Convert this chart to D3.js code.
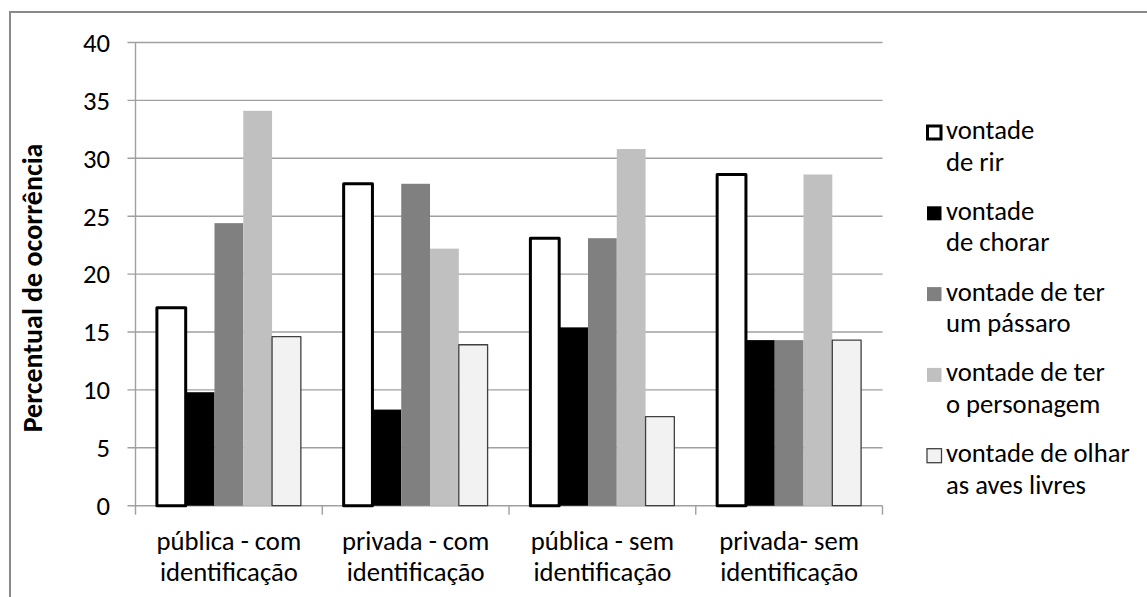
<!DOCTYPE html>
<html>
<head>
<meta charset="utf-8">
<script src="https://cdn.jsdelivr.net/npm/d3@7"></script>
<style>
  body { margin: 0; background: #fff; }
  svg { display: block; }
  text { font-family: Calibri, Carlito, Lato, "Noto Sans", sans-serif; fill: #000; }
</style>
</head>
<body>
<svg id="chart" width="1147" height="597"></svg>
<script>
// Category labels (two lines each)
const categoryLines = [
  ["pública - com", "identificação"],
  ["privada - com", "identificação"],
  ["pública - sem", "identificação"],
  ["privada- sem", "identificação"]
];

// Series names (two lines each, as shown in the legend)
const seriesLines = [
  ["vontade", "de rir"],
  ["vontade", "de chorar"],
  ["vontade de ter", "um pássaro"],
  ["vontade de ter", "o personagem"],
  ["vontade de olhar", "as aves livres"]
];

// Percent of occurrence per series, one value per category
const vontadeRir        = [17.1, 27.8, 23.1, 28.6];
const vontadeChorar     = [9.8, 8.3, 15.4, 14.3];
const vontadePassaro    = [24.4, 27.8, 23.1, 14.3];
const vontadePersonagem = [34.1, 22.2, 30.8, 28.6];
const vontadeOlhar      = [14.6, 13.9, 7.7, 14.3];

const yTicks = [0, 5, 10, 15, 20, 25, 30, 35, 40];
const yTitle = "Percentual de ocorrência";

const seriesValues = [vontadeRir, vontadeChorar, vontadePassaro, vontadePersonagem, vontadeOlhar];

// Bar styles per series
const fills   = ["#ffffff", "#000000", "#808080", "#c0c0c0", "#f2f2f2"];
const strokes = ["#000000", "none", "none", "none", "#404040"];
const strokeW = [3, 0, 0, 0, 1.3];

const fontSize = 26.67;

const svg = d3.select("#chart");

// Outer chart frame
svg.append("path")
  .attr("d", "M10,1200 V12 H1200")
  .attr("fill", "none")
  .attr("stroke", "#898989")
  .attr("stroke-width", 2);

const plot = { left: 135.5, right: 882.5, top: 42.5, bottom: 505.7 };
const gridColor = "#a0a0a0";

const y = d3.scaleLinear().domain([0, 40]).range([plot.bottom, plot.top]);
const x = d3.scaleBand()
  .domain(d3.range(categoryLines.length))
  .range([plot.left, plot.right])
  .padding(0);
const groupPad = 21.4;
const xs = d3.scaleBand()
  .domain(d3.range(seriesLines.length))
  .range([groupPad, x.bandwidth() - groupPad])
  .padding(0);

// Horizontal gridlines + y tick marks
svg.append("g")
  .selectAll("line")
  .data(yTicks)
  .join("line")
  .attr("x1", plot.left - 8)
  .attr("x2", plot.right)
  .attr("y1", d => y(d))
  .attr("y2", d => y(d))
  .attr("stroke", gridColor)
  .attr("stroke-width", 1.4);

// Y axis line
svg.append("line")
  .attr("x1", plot.left).attr("x2", plot.left)
  .attr("y1", plot.top).attr("y2", plot.bottom)
  .attr("stroke", gridColor).attr("stroke-width", 1.4);

// X axis ticks at category boundaries
const boundaries = d3.range(categoryLines.length + 1).map(i => plot.left + i * x.bandwidth());
svg.append("g")
  .selectAll("line")
  .data(boundaries)
  .join("line")
  .attr("x1", d => d).attr("x2", d => d)
  .attr("y1", plot.bottom).attr("y2", plot.bottom + 9)
  .attr("stroke", gridColor).attr("stroke-width", 1.4);

// Y tick labels
svg.append("g")
  .selectAll("text")
  .data(yTicks)
  .join("text")
  .attr("x", 110)
  .attr("y", d => y(d))
  .attr("dy", "0.35em")
  .attr("text-anchor", "end")
  .attr("font-size", fontSize)
  .text(d => d);

// Bars
const groups = svg.append("g")
  .selectAll("g")
  .data(categoryLines.map((c, i) => i))
  .join("g")
  .attr("transform", i => `translate(${x(i)},0)`);

groups.selectAll("rect")
  .data(ci => seriesValues.map((vals, si) => ({ si, v: vals[ci] })))
  .join("rect")
  .attr("x", d => xs(d.si))
  .attr("width", xs.bandwidth())
  .attr("y", d => y(d.v))
  .attr("height", d => y(0) - y(d.v))
  .attr("fill", d => fills[d.si])
  .attr("stroke", d => strokes[d.si])
  .attr("stroke-width", d => strokeW[d.si])
  .attr("stroke-linejoin", "round");

// Category labels
const catText = svg.append("g")
  .selectAll("text")
  .data(categoryLines)
  .join("text")
  .attr("text-anchor", "middle")
  .attr("font-size", fontSize);
catText.selectAll("tspan")
  .data((lines, i) => lines.map(l => ({ l, i })))
  .join("tspan")
  .attr("x", d => x(d.i) + x.bandwidth() / 2)
  .attr("y", (d, j) => 550 + j * 30.7)
  .text(d => d.l);

// Y axis title
svg.append("text")
  .attr("transform", "translate(41.5,288) rotate(-90)")
  .attr("text-anchor", "middle")
  .attr("font-size", 28)
  .attr("font-weight", "bold")
  .text(yTitle);

// Legend
const legend = svg.append("g")
  .selectAll("g")
  .data(seriesLines)
  .join("g")
  .attr("transform", (d, i) => `translate(0,${139 + i * 80.8})`);

legend.append("rect")
  .attr("x", (d, i) => 927 + (strokeW[i] > 2 ? 0.5 : 0))
  .attr("y", (d, i) => -13.5 + (strokeW[i] > 2 ? 0.5 : 0))
  .attr("width", (d, i) => 14.5 - (strokeW[i] > 2 ? 1 : 0))
  .attr("height", (d, i) => 14 - (strokeW[i] > 2 ? 1 : 0))
  .attr("fill", (d, i) => fills[i])
  .attr("stroke", (d, i) => strokes[i])
  .attr("stroke-width", (d, i) => strokeW[i]);

const legText = legend.append("text")
  .attr("font-size", fontSize);
legText.selectAll("tspan")
  .data(d => d)
  .join("tspan")
  .attr("x", 946)
  .attr("y", (d, j) => j * 31.5)
  .text(d => d);
</script>
</body>
</html>
